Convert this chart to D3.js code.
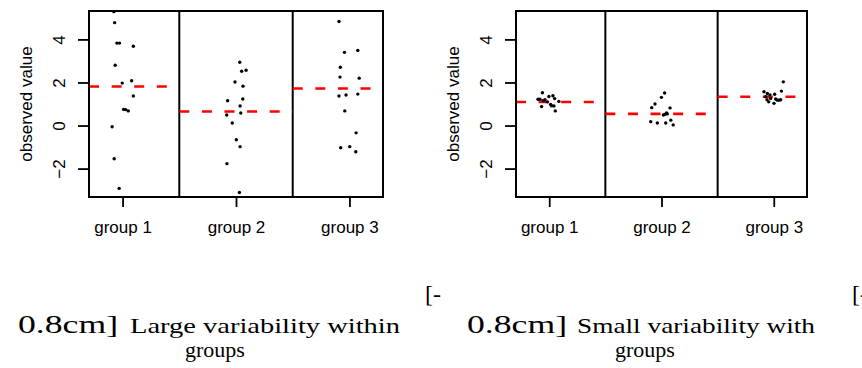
<!DOCTYPE html>
<html>
<head>
<meta charset="utf-8">
<script src="https://cdn.jsdelivr.net/npm/d3@7"></script>
<style>
  body { margin: 0; background: #fff; }
  svg { display: block; }
  .axis text { font-family: "Liberation Sans", Arial, sans-serif; font-size: 17px; fill: #000; }
  .caption { font-family: "Liberation Serif", "DejaVu Serif", serif; fill: #000; }
</style>
</head>
<body>
<div id="chart"></div>
<script>
// group names and y ticks
const groups = ["group 1", "group 2", "group 3"];
const yTicks = [-2, 0, 2, 4];

// [x position (jittered around group index), observed value]
const largePoints = [
  [0.923, 5.29], [0.93, 4.78], [0.95, 3.83], [0.973, 3.83], [1.095, 3.68],
  [0.935, 2.8], [0.997, 1.97], [1.08, 2.08], [1.095, 1.37], [1.009, 0.75],
  [1.027, 0.74], [1.05, 0.68], [0.908, -0.06], [0.926, -1.54], [0.97, -2.92],
  [2.033, 2.94], [2.05, 2.52], [2.089, 2.57], [1.991, 2.02], [2.062, 1.83],
  [1.926, 1.15], [2.06, 1.23], [2.036, 0.91], [1.918, 0.49], [2.042, 0.58],
  [1.967, 0.12], [2.003, -0.66], [2.036, -0.98], [1.92, -1.77], [2.03, -3.11],
  [2.908, 4.83], [2.956, 3.4], [3.074, 3.49], [2.92, 2.71], [2.917, 2.25],
  [3.086, 2.2], [2.908, 1.37], [2.97, 1.42], [3.074, 1.46], [2.959, 0.68],
  [3.059, -0.34], [2.923, -1.03], [3.003, -0.98], [3.056, -1.22]
];
const largeMeans = [1.81, 0.65, 1.72];

const smallPoints = [
  [0.939, 1.52], [0.9, 1.22], [0.917, 1.22], [0.944, 1.15], [0.962, 1.2],
  [0.997, 1.35], [1.033, 1.38], [1.048, 1.25], [1.086, 1.12], [0.932, 0.88],
  [1.012, 0.98], [1.021, 0.92], [1.042, 0.91], [1.054, 0.68], [0.983, 1.1],
  [1.913, 0.83], [1.942, 1.0], [1.999, 1.31], [2.028, 1.51], [2.076, 0.82],
  [2.017, 0.49], [2.052, 0.54], [2.03, 0.52], [2.045, 0.58], [1.904, 0.18],
  [1.963, 0.12], [2.038, 0.12], [2.083, 0.25], [2.104, 0.03],
  [2.913, 1.57], [2.943, 1.49], [2.966, 1.42], [2.928, 1.34], [3.008, 1.45],
  [2.955, 1.1], [3.002, 1.03], [3.032, 1.18], [3.061, 1.2], [3.068, 1.6],
  [3.085, 2.03], [2.972, 1.26], [3.017, 1.23], [3.046, 1.18], [2.94, 1.2]
];
const smallMeans = [1.09, 0.54, 1.34];

const width = 862, height = 368;
const plotTop = 11, plotBottom = 197;

const svg = d3.select("#chart").append("svg")
  .attr("width", width)
  .attr("height", height);

const panels = [
  { left: 89, right: 383, points: largePoints, means: largeMeans,
    cap: { x0: 18, w0: 100, x1: 130, w1: 270, text: "Large variability within", cx: 215 } },
  { left: 516, right: 807, points: smallPoints, means: smallMeans,
    cap: { x0: 467, w0: 100, x1: 577, w1: 238, text: "Small variability with", cx: 645 } }
];

panels.forEach(p => {
  const x = d3.scaleLinear().domain([0.704, 3.296]).range([p.left, p.right]);
  const y = d3.scaleLinear().domain([-3.32, 5.32]).range([plotBottom, plotTop]);
  const g = svg.append("g");

  // y axis, labels turned like R's
  const yAxis = g.append("g")
    .attr("class", "axis")
    .attr("transform", `translate(${p.left},0)`)
    .call(d3.axisLeft(y).tickValues(yTicks).tickSize(11).tickFormat(d => d < 0 ? "\u2212" + Math.abs(d) : d));
  yAxis.select(".domain").remove();
  yAxis.selectAll("line").attr("stroke", "#000").attr("stroke-width", 1.8);
  yAxis.selectAll("text")
    .attr("transform", "rotate(-90)")
    .attr("x", 0).attr("y", -24).attr("dy", 0)
    .attr("text-anchor", "middle");

  // x axis
  const xAxis = g.append("g")
    .attr("class", "axis")
    .attr("transform", `translate(0,${plotBottom})`)
    .call(d3.axisBottom(x).tickValues([1, 2, 3]).tickSize(10).tickFormat(d => groups[d - 1]));
  xAxis.select(".domain").remove();
  xAxis.selectAll("line").attr("stroke", "#000").attr("stroke-width", 1.8);
  xAxis.selectAll("text").attr("y", 36).attr("dy", 0);

  // axis title
  g.append("text")
    .attr("transform", `translate(${p.left - 57},${(plotTop + plotBottom) / 2}) rotate(-90)`)
    .attr("text-anchor", "middle")
    .style("font-family", "'Liberation Sans', Arial, sans-serif")
    .style("font-size", "17px")
    .text("observed value");

  // group dividers
  g.selectAll(".divider")
    .data([1.5, 2.5])
    .join("line")
    .attr("class", "divider")
    .attr("x1", d => x(d)).attr("x2", d => x(d))
    .attr("y1", plotTop).attr("y2", plotBottom)
    .attr("stroke", "#000").attr("stroke-width", 2);

  // group means
  g.selectAll(".mean")
    .data(p.means)
    .join("line")
    .attr("class", "mean")
    .attr("x1", (d, i) => x(Math.max(i + 0.5, 0.704)))
    .attr("x2", (d, i) => x(Math.min(i + 1.5, 3.296)))
    .attr("y1", d => y(d)).attr("y2", d => y(d))
    .attr("stroke", "#ff0000")
    .attr("stroke-width", 2.6)
    .attr("stroke-dasharray", "10,12.6");

  // observations
  g.selectAll(".obs")
    .data(p.points)
    .join("circle")
    .attr("class", "obs")
    .attr("cx", d => x(d[0]))
    .attr("cy", d => y(d[1]))
    .attr("r", 1.7)
    .attr("fill", "#000");

  // frame
  g.append("rect")
    .attr("x", p.left).attr("y", plotTop)
    .attr("width", p.right - p.left).attr("height", plotBottom - plotTop)
    .attr("fill", "none").attr("stroke", "#000").attr("stroke-width", 2);

  // caption (broken LaTeX spacing left as is)
  g.append("text")
    .attr("class", "caption")
    .attr("x", p.cap.x0).attr("y", 333)
    .attr("textLength", p.cap.w0).attr("lengthAdjust", "spacingAndGlyphs")
    .style("font-size", "26px")
    .text("0.8cm]");
  g.append("text")
    .attr("class", "caption")
    .attr("x", p.cap.x1).attr("y", 333)
    .attr("textLength", p.cap.w1).attr("lengthAdjust", "spacingAndGlyphs")
    .style("font-size", "22px")
    .text(p.cap.text);
  g.append("text")
    .attr("class", "caption")
    .attr("x", p.cap.cx).attr("y", 357)
    .attr("text-anchor", "middle")
    .style("font-size", "22px")
    .text("groups");
});

// stray brackets from the caption source
svg.selectAll(".bracket")
  .data([425, 852])
  .join("text")
  .attr("class", "caption bracket")
  .attr("x", d => d).attr("y", 302)
  .style("font-size", "24px")
  .text("[-");
</script>
</body>
</html>
